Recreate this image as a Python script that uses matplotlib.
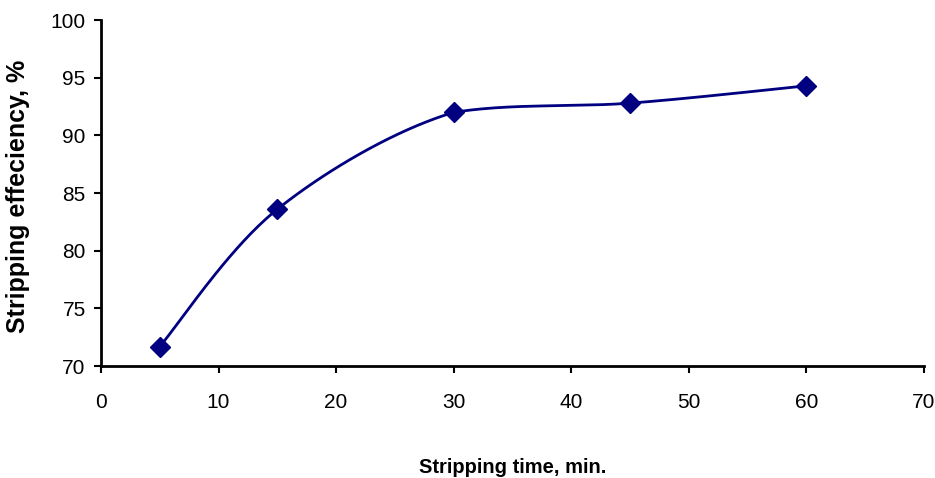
import numpy as np
import matplotlib
matplotlib.use("Agg")
import matplotlib.pyplot as plt

time_min = [5, 15, 30, 45, 60]
efficiency = [71.7, 83.6, 92.0, 92.8, 94.3]
x_ticks = [0, 10, 20, 30, 40, 50, 60, 70]
y_ticks = [70, 75, 80, 85, 90, 95, 100]

font = ['Liberation Sans', 'DejaVu Sans']


def smooth(xs, ys, n=40):
    xs = np.asarray(xs, float)
    ys = np.asarray(ys, float)
    px, py = [], []
    m = len(xs)
    for i in range(m - 1):
        i0 = max(i - 1, 0)
        i3 = min(i + 2, m - 1)
        p0 = np.array([xs[i], ys[i]])
        p3 = np.array([xs[i + 1], ys[i + 1]])
        c1 = p0 + (np.array([xs[i + 1], ys[i + 1]]) - np.array([xs[i0], ys[i0]])) / 6
        c2 = p3 - (np.array([xs[i3], ys[i3]]) - np.array([xs[i], ys[i]])) / 6
        lo, hi = min(p0[1], p3[1]), max(p0[1], p3[1])
        c1[1] = np.clip(c1[1], lo, hi)
        c2[1] = np.clip(c2[1], lo, hi)
        t = np.linspace(0, 1, n)[:, None]
        pts = ((1 - t) ** 3) * p0 + 3 * ((1 - t) ** 2) * t * c1 + 3 * (1 - t) * t ** 2 * c2 + t ** 3 * p3
        px.extend(pts[:, 0])
        py.extend(pts[:, 1])
    return px, py


fig = plt.figure(figsize=(9.35, 4.78), dpi=100)
ax = fig.add_axes([0.108, 0.234, 0.880, 0.724])

sx, sy = smooth(time_min, efficiency)
ax.plot(sx, sy, color='#000080', lw=2, zorder=2)
ax.plot(time_min, efficiency, linestyle='none', marker='D', color='#000080',
        markersize=10, zorder=3)

ax.set_xlim(0, 70)
ax.set_ylim(70, 100)
ax.set_xticks(x_ticks)
ax.set_yticks(y_ticks)
ax.set_xticklabels([str(v) for v in x_ticks], family=font, fontsize=15)
ax.set_yticklabels([str(v) for v in y_ticks], family=font, fontsize=15)

for s in ['top', 'right']:
    ax.spines[s].set_visible(False)
for s in ['left', 'bottom']:
    ax.spines[s].set_linewidth(2)
    ax.spines[s].set_color('black')
ax.tick_params(axis='x', direction='out', length=5, width=1.5, pad=14)
ax.tick_params(axis='y', direction='out', length=5, width=1.5, pad=6)

ax.set_xlabel('Stripping time, min.', family=font, fontsize=14.5, fontweight='bold', va='center')
ax.xaxis.set_label_coords(0.5, -0.292)
ax.set_ylabel('Stripping effeciency, %', family=font, fontsize=18, fontweight='bold', va='center')
ax.yaxis.set_label_coords(-0.101, 0.49)

fig.savefig('out.png', dpi=100)
